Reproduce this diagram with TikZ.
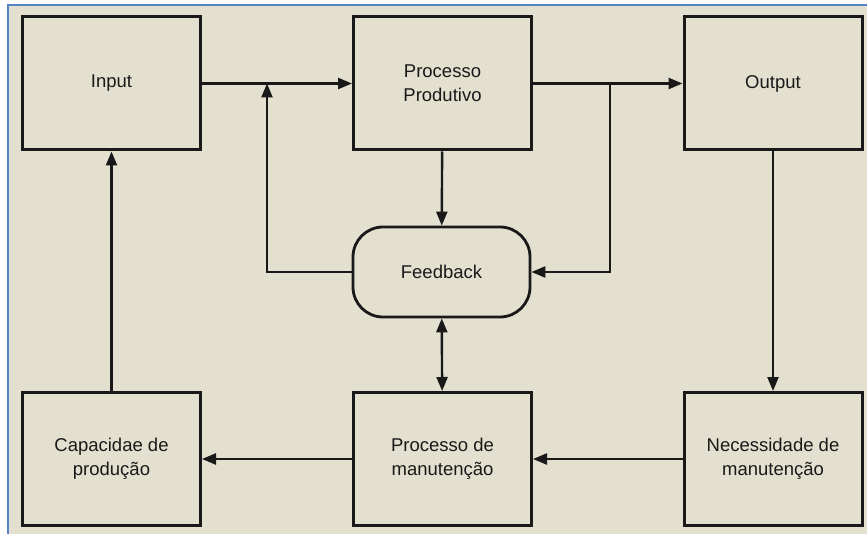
\documentclass[tikz,border=0pt]{standalone}
\usepackage{fontspec}
\setmainfont{Liberation Sans}
\usepackage{tikz}
\usetikzlibrary{arrows,arrows.meta,shapes,positioning,calc}
\usepackage{xcolor}
\definecolor{pmbeige}{RGB}{227,224,208}
\definecolor{pmblue}{RGB}{84,130,198}
\definecolor{pmdark}{RGB}{25,25,25}
\tikzstyle{arrow} = [line width=2.4pt,->,>={Triangle[length=14pt,width=11pt]},color=pmdark]
\tikzstyle{stagebox} = [rectangle, minimum width=178pt, minimum height=133pt, text centered, align=center, draw=pmdark, line width=3pt, font=\fontsize{18.5}{24}\selectfont, text=pmdark]
\tikzstyle{loopbox} = [rectangle, rounded corners=30pt, minimum width=177pt, minimum height=90pt, text centered, draw=pmdark, line width=2.8pt, font=\fontsize{18.5}{24}\selectfont, text=pmdark]

\begin{document}
\begin{tikzpicture}[x=1pt,y=-1pt]
% Frame
\useasboundingbox (0,0) rectangle (867,534);
\fill[white] (0,0) rectangle (867,534);
\fill[pmbeige] (8,5) rectangle (867,534);
\draw[pmblue, line width=2pt] (8,534) -- (8,5) -- (867,5);

% Top row
\node[stagebox] (inp) at (111.5,83.5) {Input};
\node[stagebox] (prod) at (442.5,83.5) {Processo\\Produtivo};
\node[stagebox] (outp) at (773,83.5) {Output};

% Feedback
\node[loopbox] (fb) at (441.5,272) {Feedback};

% Bottom row
\node[stagebox] (cap) at (111.5,459) {Capacidae de\\produção};
\node[stagebox] (manut) at (442.5,459) {Processo de\\manutenção};
\node[stagebox] (nec) at (773,459) {Necessidade de\\manutenção};

% Junctions
\coordinate (jin) at (267,83.5);
\coordinate (jout) at (610,83.5);

% Arrows
\draw[arrow] (inp) -- (prod);
\draw[arrow] (fb.west) -| (jin);
\draw[arrow] (prod) -- (fb);
\draw[arrow] (prod) -- (outp);
\draw[arrow] (jout) |- (fb.east);
\draw[arrow] (outp) -- (nec);
\draw[arrow, <->] (fb) -- (manut);
\draw[arrow] (nec) -- (manut);
\draw[arrow] (manut) -- (cap);
\draw[arrow] (cap) -- (inp);
\end{tikzpicture}
\end{document}
